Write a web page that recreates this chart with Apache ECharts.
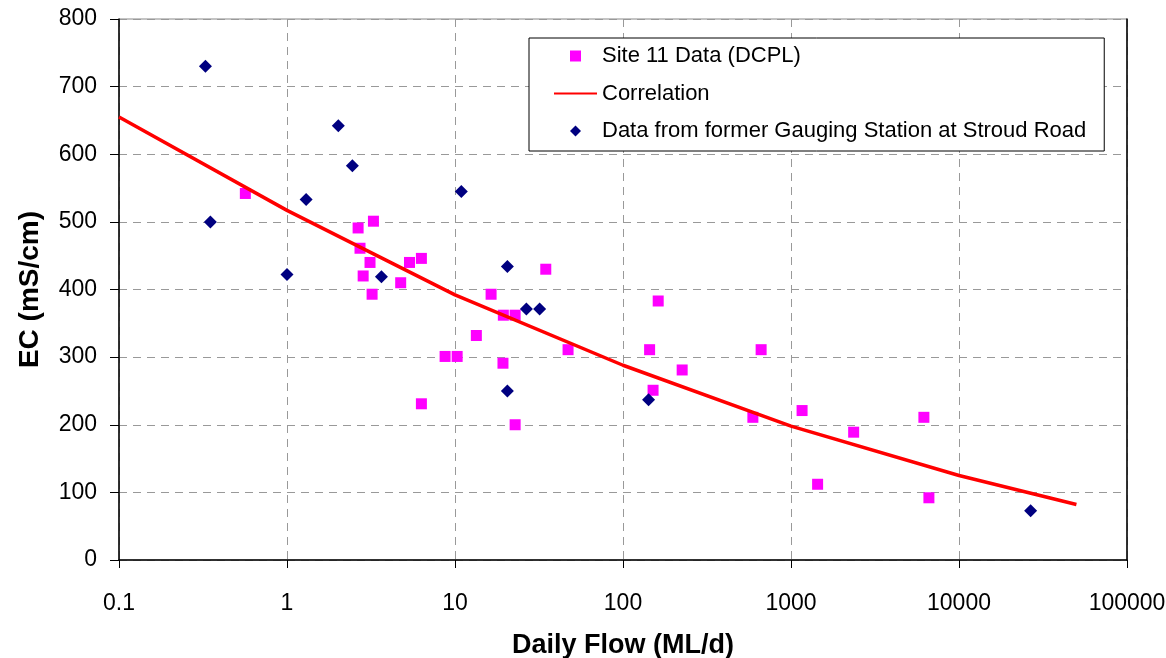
<!DOCTYPE html>
<html>
<head>
<meta charset="utf-8">
<script src="https://cdn.jsdelivr.net/npm/echarts@6/dist/echarts.min.js"></script>
<style>html,body{margin:0;padding:0;background:#fff}#c{width:1166px;height:658px}</style>
</head>
<body>
<div id="c"></div>
<script>
// Site 11 Data (DCPL): [Daily flow ML/d, EC mS/cm]
const site11Flow = [0.565, 2.65, 3.27, 2.72, 3.12, 2.84, 3.21, 5.36, 6.31, 4.75, 16.4, 19.4, 22.8, 34.7, 13.4, 8.73, 10.3, 19.3, 6.31, 22.8, 47.1, 144, 162, 225, 151, 664, 593, 1164, 2360, 6180, 1440, 6620];
const site11EC   = [542, 491, 501, 461, 440, 420, 393, 440, 446, 410, 393, 362, 362, 430, 332, 301, 301, 291, 231, 200, 311, 311, 383, 281, 251, 311, 211, 221, 189, 211, 112, 92];
// Data from former Gauging Station at Stroud Road
const stroudFlow = [0.327, 0.35, 1.0, 1.3, 2.02, 2.45, 3.65, 10.9, 20.5, 26.6, 31.9, 20.5, 142, 26700];
const stroudEC   = [730, 500, 422, 533, 642, 583, 419, 545, 434, 371, 371, 250, 237, 73];
// Correlation
const corrFlow = [0.1, 1, 10, 100, 1000, 10000, 50000];
const corrEC   = [655, 517, 392, 288, 198, 125, 82];
const seriesNames = ['Site 11 Data (DCPL)', 'Correlation', 'Data from former Gauging Station at Stroud Road'];
const xTitle = 'Daily Flow (ML/d)';
const yTitle = 'EC (mS/cm)';

const zip = (a, b) => a.map((v, i) => [v, b[i]]);
const FONT = "'Liberation Sans', Arial, sans-serif";
const SQUARE = 'path://M0,0L10,0L10,10L0,10Z';
const DIAMOND = 'path://M5,0L10,5L5,10L0,5Z';

const chart = echarts.init(document.getElementById('c'), null, {renderer: 'canvas'});
chart.setOption({
  animation: false,
  backgroundColor: '#fff',
  textStyle: {fontFamily: FONT},
  grid: {left: 119, right: 39, top: 19, bottom: 98, show: true, borderColor: '#888', borderWidth: 1,
         containLabel: false, outerBoundsMode: 'none'},
  legend: {
    orient: 'vertical', left: 529, top: 38,
    padding: [7, 18, 9, 24],
    itemWidth: 43, itemHeight: 11, itemGap: 15.5,
    symbolKeepAspect: true,
    borderColor: '#000', borderWidth: 1, backgroundColor: '#fff',
    textStyle: {fontSize: 22, lineHeight: 22, color: '#000', fontFamily: FONT},
    data: [
      {name: seriesNames[0], icon: SQUARE},
      {name: seriesNames[1], itemStyle: {opacity: 0, borderWidth: 0}},
      {name: seriesNames[2], icon: DIAMOND}
    ]
  },
  xAxis: {
    type: 'log', logBase: 10, min: 0.1, max: 100000,
    name: xTitle, nameLocation: 'middle', nameGap: 72,
    nameTextStyle: {fontSize: 27, fontWeight: 'bold', color: '#000', fontFamily: FONT},
    axisLine: {lineStyle: {color: '#000', width: 1.5}},
    axisTick: {show: true, length: 8, lineStyle: {color: '#000'}},
    minorTick: {show: false},
    axisLabel: {fontSize: 23, color: '#000', margin: 32, fontFamily: FONT,
      formatter: v => String(+(+v).toPrecision(6))},
    splitLine: {show: true, lineStyle: {color: '#999', type: [8, 6], width: 1}}
  },
  yAxis: [{
    type: 'value', min: 0, max: 800, interval: 100,
    name: yTitle, nameLocation: 'middle', nameGap: 75, nameRotate: 90,
    nameTextStyle: {fontSize: 28, fontWeight: 'bold', color: '#000', fontFamily: FONT},
    axisLine: {show: true, lineStyle: {color: '#000', width: 1.5}},
    axisTick: {show: true, length: 9, lineStyle: {color: '#000'}},
    axisLabel: {fontSize: 23, color: '#000', margin: 22, fontFamily: FONT},
    splitLine: {show: true, lineStyle: {color: '#999', type: [8, 6], width: 1}}
  }, {
    type: 'value', min: 0, max: 800, interval: 100, position: 'right',
    axisLine: {show: true, lineStyle: {color: '#000', width: 1.5}},
    axisTick: {show: false}, axisLabel: {show: false}, splitLine: {show: false}
  }],
  series: [
    {
      name: seriesNames[0], type: 'scatter', symbol: 'rect', symbolSize: 11,
      itemStyle: {color: '#FF00FF', opacity: 1},
      data: zip(site11Flow, site11EC), z: 3
    },
    {
      name: seriesNames[1], type: 'line', symbol: 'none', showSymbol: false,
      lineStyle: {color: '#FF0000', width: 3.5},
      itemStyle: {color: '#FF0000'},
      data: zip(corrFlow, corrEC), z: 4
    },
    {
      name: seriesNames[2], type: 'scatter', symbol: 'diamond', symbolSize: 13,
      itemStyle: {color: '#000080', opacity: 1},
      data: zip(stroudFlow, stroudEC), z: 5
    }
  ]
});
</script>
</body>
</html>
